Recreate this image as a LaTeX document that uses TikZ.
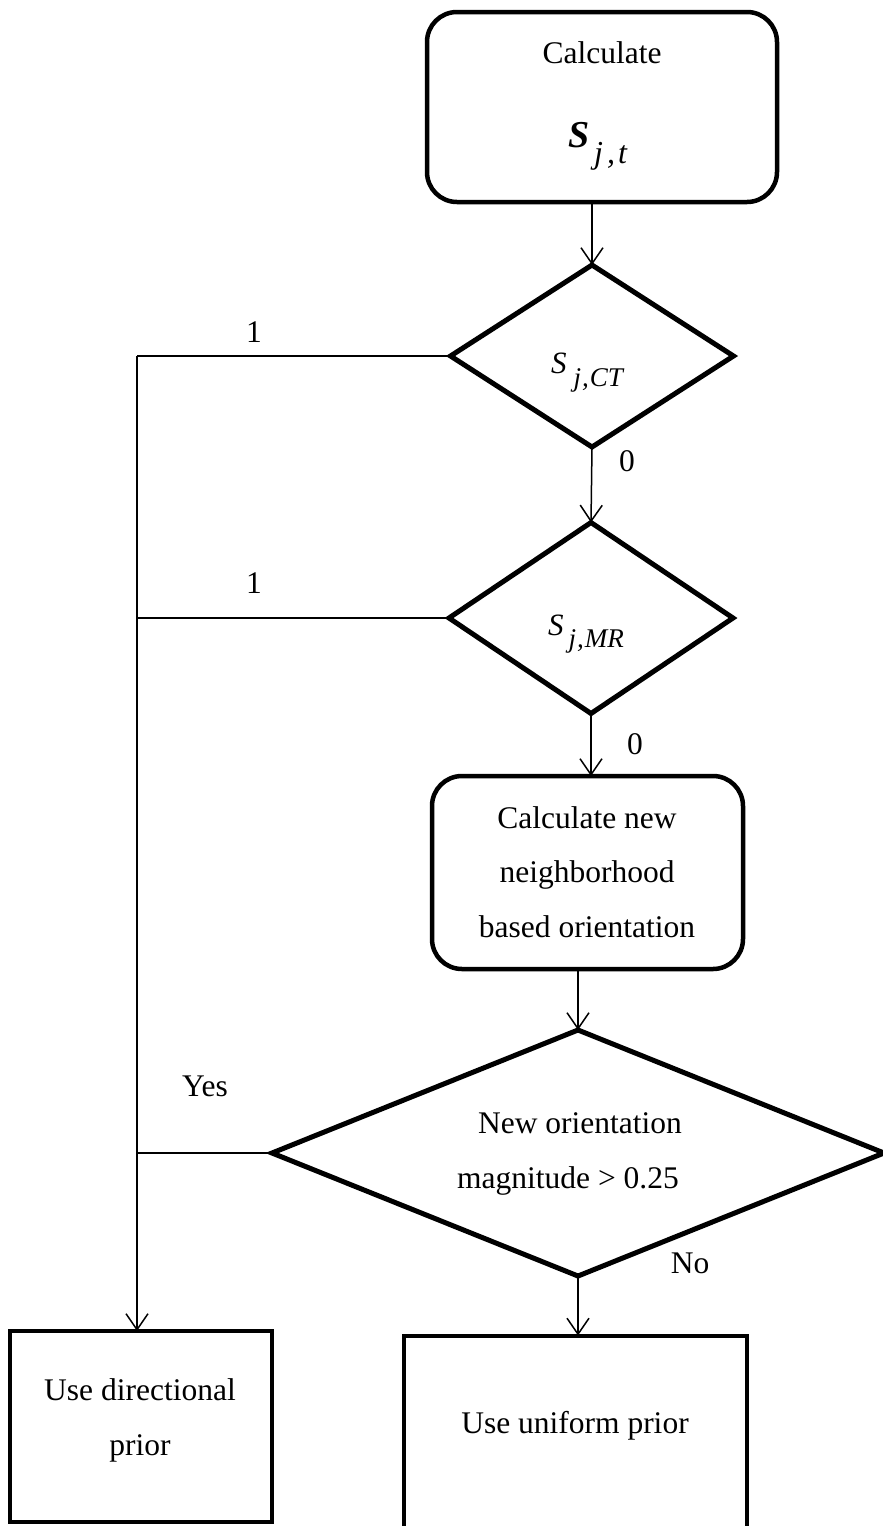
\documentclass[tikz,border=0pt]{standalone}
\usepackage{fontspec}
\setmainfont{Liberation Serif}
\usetikzlibrary{shapes.geometric,arrows.meta}
\begin{document}
\begin{tikzpicture}[x=1pt,y=-1pt,
  every node/.style={inner sep=0pt, outer sep=0pt},
  txt/.style={font=\fontsize{31.5}{38}\selectfont, anchor=base},
  rbox/.style={draw, line width=4.5pt, rounded corners=30pt},
  sbox/.style={draw, line width=4pt},
  dec/.style={draw, diamond, line width=5pt, aspect=1},
  conn/.style={line width=1.5pt},
  arr/.style={line width=1.5pt, -{Straight Barb[length=16pt,width=22pt]}},
]
\useasboundingbox (0,0) rectangle (883,1526);
\clip (0,0) rectangle (883,1526);

% shapes
\node[rbox, minimum width=350pt, minimum height=190pt] (b1) at (602,107) {};
\node[dec, minimum width=283pt, minimum height=182pt] (d1) at (592,356) {};
\node[dec, minimum width=284pt, minimum height=191pt] (d2) at (591,618) {};
\node[rbox, minimum width=311pt, minimum height=193pt] (b2) at (587.5,872.5) {};
\node[dec, minimum width=612pt, minimum height=246pt] (d3) at (578,1153) {};
\node[sbox, minimum width=262pt, minimum height=191pt] (b3) at (141,1426.5) {};
\node[sbox, minimum width=343pt, minimum height=197pt] (b4) at (575.5,1434) {};

% texts
\node[txt] (t1) at (602,63) {Calculate};
\node[anchor=base west] (t2) at (568,147) {{\fontsize{38}{38}\selectfont\bfseries\itshape S}\kern5pt\raisebox{-16pt}{\fontsize{32}{32}\selectfont\itshape j\kern4pt,\kern3pt t}};
\node[anchor=base west] (t3) at (551,373) {{\fontsize{31}{31}\selectfont\itshape S}\kern7pt\raisebox{-13pt}{\fontsize{27}{27}\selectfont\itshape j\kern1pt,\kern1pt CT}};
\node[anchor=base west] (t4) at (548,635) {{\fontsize{31}{31}\selectfont\itshape S}\kern5pt\raisebox{-12pt}{\fontsize{27}{27}\selectfont\itshape j\kern1pt,\kern1pt MR}};
\node[txt] (t5) at (587,828) {Calculate new};
\node[txt] (t6) at (587,882) {neighborhood};
\node[txt] (t7) at (587,937) {based orientation};
\node[txt] (t8) at (580,1133) {New orientation};
\node[txt] (t9) at (568,1188) {magnitude \textgreater{} 0.25};
\node[txt] (t10) at (140,1400) {Use directional};
\node[txt] (t11) at (140,1455) {prior};
\node[txt] (t12) at (575,1433) {Use uniform prior};

% labels
\node[txt] (l1) at (254,342) {1};
\node[txt] (l2) at (254,593) {1};
\node[txt] (l3) at (627,471) {0};
\node[txt] (l4) at (635,754) {0};
\node[txt] (l5) at (205,1096) {Yes};
\node[txt] (l6) at (690,1273) {No};

% connectors
\coordinate (c1) at (137,356);
\draw[arr] (d1.north |- b1.south) -- (d1.north);
\draw[arr] (d1.south) -- (d2.north);
\draw[arr] (d2.south) -- (d2.south |- b2.north);
\draw[arr] (d3.north |- b2.south) -- (d3.north);
\draw[arr] (d3.south) -- (d3.south |- b4.north);
\draw[conn] (d1.west) -- (c1);
\draw[conn] (d2.west) -- (c1 |- d2.west);
\draw[conn] (d3.west) -- (c1 |- d3.west);
\draw[arr] (c1) -- (c1 |- b3.north);
\end{tikzpicture}
\end{document}
